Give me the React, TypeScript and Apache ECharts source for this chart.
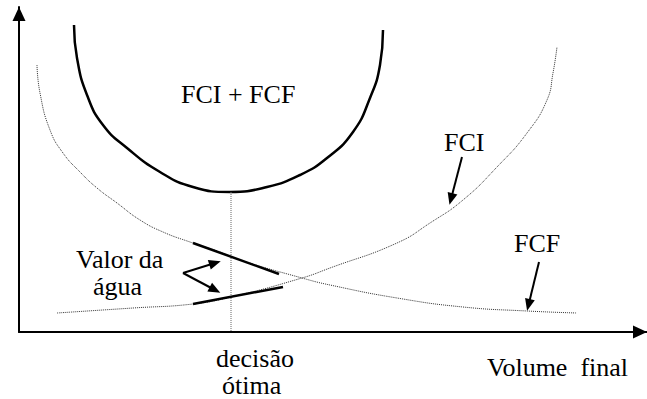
import React, { useEffect, useRef } from "react";
import * as echarts from "echarts";

// Conceptual diagram values (x: final volume, y: cost), arbitrary units
const fcfCurve: number[][] = [
  [18, 267], [21, 239], [31, 202], [44, 179], [61, 160], [78, 144], [98, 129],
  [121, 112], [144, 100], [171, 90], [198, 81], [221, 72], [283, 54], [311, 47],
  [378, 34], [444, 25], [508, 21], [558, 19],
];
const fciCurve: number[][] = [
  [38, 19], [114, 24], [174, 28], [212, 35], [283, 54], [311, 64], [378, 89],
  [411, 109], [444, 132], [478, 165], [508, 199], [528, 232], [534, 259], [538, 285],
];
const totalCurve: number[][] = [
  [55, 307], [58, 274], [68, 237], [84, 207], [108, 184], [141, 160], [174, 145],
  [211, 140], [248, 145], [281, 157], [308, 174], [334, 200], [351, 234], [361, 267], [364, 302],
];
const optimalLine: number[][] = [[212, 140], [212, 0]];
const fcfTangent: number[][] = [[174, 89], [260, 58]];
const fciTangent: number[][] = [[174, 28], [264, 45]];
const arrowLines: number[][][] = [
  [[443, 175], [432, 133]],
  [[520, 70], [509.5, 27]],
  [[164, 59], [196, 69]],
  [[164, 59], [196, 42]],
];
const labelTexts = ["FCI + FCF", "FCI", "FCF", "Valor da", "água", "decisão", "ótima", "Volume  final"];

const FONT_SIZE = 26;
const FAMILY = "Liberation Serif";

export default function App() {
  const ref = useRef<HTMLDivElement>(null);
  useEffect(() => {
    if (!ref.current) return;
    const chart = echarts.init(ref.current, null, { renderer: "svg" });
    const pos = [
      [238, 94], [464, 142], [537, 243], [120, 259], [118, 286], [255, 358], [252, 385], [558, 367],
    ];
    const ctx = document.createElement("canvas").getContext("2d");
    if (ctx) ctx.font = `${FONT_SIZE}px "${FAMILY}"`;
    const titles = labelTexts.map((t, i) => {
      const w = ctx ? ctx.measureText(t).width : t.length * FONT_SIZE * 0.45;
      return {
        text: t,
        left: Math.round(pos[i][0] - w / 2),
        top: pos[i][1] - FONT_SIZE / 2,
        padding: 0,
        textStyle: {
          fontFamily: FAMILY,
          fontSize: FONT_SIZE,
          fontWeight: "normal",
          color: "#000",
        },
      };
    });
    const dotted = { color: "#333", width: 1, type: "dotted" as const };
    const thick = { color: "#000", width: 2.5, type: "solid" as const };
    chart.setOption({
      animation: false,
      textStyle: { fontFamily: FAMILY },
      title: titles,
      grid: { left: 19, top: 7, width: 628, height: 325 },
      xAxis: {
        type: "value", min: 0, max: 628,
        axisLine: { show: true, symbol: ["none", "triangle"], symbolSize: [13, 14], symbolOffset: [0, -7], lineStyle: { color: "#000", width: 2 } },
        axisTick: { show: false }, axisLabel: { show: false }, splitLine: { show: false },
      },
      yAxis: {
        type: "value", min: 0, max: 325,
        axisLine: { show: true, symbol: ["none", "triangle"], symbolSize: [13, 14], symbolOffset: [0, -7], lineStyle: { color: "#000", width: 2 } },
        axisTick: { show: false }, axisLabel: { show: false }, splitLine: { show: false },
      },
      series: [
        { type: "line", data: fcfCurve, smooth: 0.5, showSymbol: false, lineStyle: dotted },
        { type: "line", data: fciCurve, smooth: 0.5, showSymbol: false, lineStyle: dotted },
        { type: "line", data: totalCurve, smooth: 0.5, showSymbol: false, lineStyle: thick },
        { type: "line", data: optimalLine, showSymbol: false, lineStyle: { color: "#666", width: 1, type: "dotted" } },
        { type: "line", data: fcfTangent, showSymbol: false, lineStyle: thick },
        { type: "line", data: fciTangent, showSymbol: false, lineStyle: thick },
        {
          type: "line", data: [], showSymbol: false,
          markLine: {
            silent: true,
            symbol: ["none", "triangle"],
            symbolSize: [10, 12],
            label: { show: false },
            lineStyle: { color: "#000", width: 2, type: "solid" },
            data: arrowLines.map((a) => [{ coord: a[0] }, { coord: a[1] }]),
          },
        },
      ],
    });
    return () => chart.dispose();
  }, []);
  return (
    <div
      ref={ref}
      style={{ position: "fixed", left: 0, top: 0, width: 647, height: 399, background: "#fff", fontFamily: FAMILY }}
    />
  );
}
